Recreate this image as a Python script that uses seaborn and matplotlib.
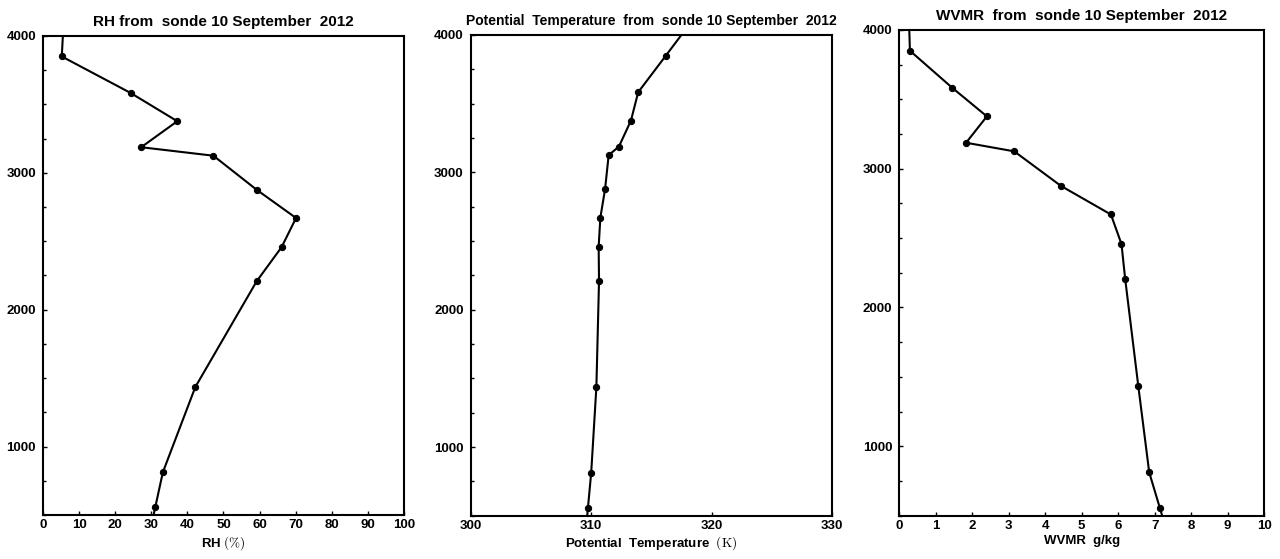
import numpy as np
import pandas as pd
import matplotlib
matplotlib.use("Agg")
import matplotlib.pyplot as plt
from matplotlib.ticker import MultipleLocator
import seaborn as sns

# ================================
# SONDE DATA (10 Sep 2012)
# first / last levels sit just outside the plotted range
# ================================

height = [4200, 3850, 3583, 3377, 3187, 3125, 2876, 2670, 2457, 2208, 1435, 812, 557, 400]

rh    = [5.9, 5.2, 24.3, 37.2, 27.2, 47.2, 59.2, 70.1, 66.1, 59.2, 42.2, 33.2, 31.1, 29.8]
theta = [319.2, 316.2, 313.9, 313.3, 312.3, 311.45, 311.15, 310.76, 310.62, 310.65, 310.43, 310.0, 309.73, 309.57]
wvmr  = [0.25, 0.29, 1.45, 2.40, 1.83, 3.15, 4.43, 5.80, 6.09, 6.19, 6.55, 6.85, 7.14, 7.32]

df = pd.DataFrame({"height": height, "rh": rh, "theta": theta, "wvmr": wvmr})

titles = ["RH from  sonde 10 September  2012",
          "Potential  Temperature  from  sonde 10 September  2012",
          "WVMR  from  sonde 10 September  2012"]
title_sizes = [11, 10, 11]
xlabels = [r"RH $(\%)$", r"Potential  Temperature  $(\mathrm{K})$", "WVMR  g/kg"]
xcols = ["rh", "theta", "wvmr"]
xlims = [(0, 100), (300, 330), (0, 10)]
xsteps = [10, 10, 1]

# ================================
# STYLE
# ================================

sns.set_style("ticks", {"axes.edgecolor": "black", "xtick.color": "black",
                        "ytick.color": "black", "text.color": "black",
                        "axes.labelcolor": "black"})
plt.rcParams["font.family"] = ["Liberation Sans", "DejaVu Sans"]
plt.rcParams["font.weight"] = "bold"
plt.rcParams["mathtext.fontset"] = "cm"

fig = plt.figure(figsize=(12.8, 5.59), dpi=100)

# axes boxes (left, bottom, width, height) in figure fraction
boxes = [(0.0336, 0.0787, 0.2820, 0.8570),
         (0.3677, 0.0775, 0.2825, 0.8600),
         (0.7026, 0.0775, 0.2850, 0.8690)]

for i in range(3):
    ax = fig.add_axes(boxes[i])
    sns.lineplot(data=df, x=xcols[i], y="height", sort=False, estimator=None,
                 color="black", linewidth=1.5, marker="o", markersize=4.5,
                 markeredgecolor="black", ax=ax)
    ax.set_xlim(*xlims[i])
    ax.set_ylim(500, 4000)
    ax.xaxis.set_major_locator(MultipleLocator(xsteps[i]))
    ax.yaxis.set_minor_locator(MultipleLocator(250))
    ax.set_yticks([1000, 2000, 3000, 4000])
    ax.tick_params(axis="both", which="both", direction="in", top=False, right=False,
                   width=1.0, labelsize=9.5, colors="black")
    ax.tick_params(axis="both", which="major", length=3, pad=3)
    ax.tick_params(axis="y", which="major", pad=5)
    ax.tick_params(axis="y", which="minor", length=2)
    for lab in ax.get_xticklabels() + ax.get_yticklabels():
        lab.set_fontweight("bold")
    for s in ax.spines.values():
        s.set_linewidth(1.5)
        s.set_color("black")
        s.set_visible(True)
    ax.set_title(titles[i], fontsize=title_sizes[i], fontweight="bold", pad=7)
    ax.set_xlabel(xlabels[i], fontsize=9.5, fontweight="bold", labelpad=2)
    ax.set_ylabel("")

fig.savefig("out.png", dpi=100)
